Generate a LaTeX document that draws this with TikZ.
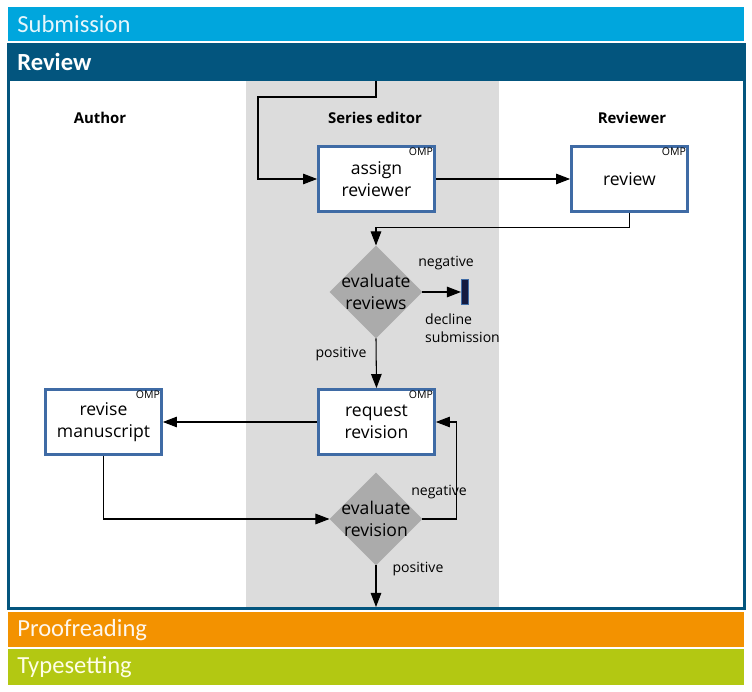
\documentclass[tikz,border=0pt]{standalone}
\usepackage{fontspec}
\setmainfont{Open Sans}
\newfontfamily\bandfont{Carlito}
\usetikzlibrary{shapes.geometric,arrows.meta}
\definecolor{submblue}{HTML}{00A6DD}
\definecolor{revblue}{HTML}{03557E}
\definecolor{taskblue}{HTML}{3F6BA5}
\definecolor{lanegray}{HTML}{DCDCDC}
\definecolor{diagray}{HTML}{ABABAB}
\definecolor{proofor}{HTML}{F39200}
\definecolor{typegreen}{HTML}{B3C812}
\definecolor{endnavy}{HTML}{141A40}

\begin{document}
\begin{tikzpicture}[x=0.02cm,y=-0.02cm,
  task/.style={draw=taskblue,line width=1.6pt,fill=white,minimum width=2.32cm,minimum height=1.3cm,align=center,font=\fontsize{10}{12.5}\selectfont},
  decision/.style={diamond,fill=diagray,minimum width=1.86cm,minimum height=1.86cm,inner sep=-5pt,outer sep=0pt,align=center,font=\fontsize{10}{12.5}\selectfont},
  omp/.style={anchor=north east,inner sep=1.5pt,font=\fontsize{6}{7}\selectfont},
  lane/.style={font=\bfseries\fontsize{8.5}{10}\selectfont},
  lbl/.style={font=\fontsize{8}{10}\selectfont},
  band/.style={anchor=west,inner sep=0pt,font=\bandfont\fontsize{14}{16}\selectfont},
  flow/.style={line width=0.6pt,-{Triangle[length=8pt,width=6pt]}}]
\useasboundingbox (0,0) rectangle (752,692);
% phase bands
\fill[submblue] (8,7) rectangle (744,41);
\node[band,text=white!90!submblue] (subm) at (17,24) {Submission};
\fill[proofor] (8,612) rectangle (744,647);
\node[band,text=white!92!proofor] (proof) at (17,630) {Proofreading};
\fill[typegreen] (8,649) rectangle (744,685);
\node[band,text=white!90!yellow] (types) at (17,667) {Typesetting};
% review phase
\fill[white] (8,44) rectangle (744,608);
\fill[lanegray] (246,81) rectangle (499,607);
\fill[revblue] (7,43) rectangle (746,81);
\draw[revblue,line width=1.7pt] (8.5,44.5) rectangle (744.5,608.5);
\node[band,text=white,font=\bandfont\bfseries\fontsize{14}{16}\selectfont] (rev) at (17,62) {Review};
% lanes
\node[lane] (author) at (100,118) {Author};
\node[lane] (editor) at (375,118) {Series editor};
\node[lane] (reviewer) at (632,118) {Reviewer};
% tasks
\node[task] (assign) at (376.5,179) {assign\\reviewer};
\node[omp] at (assign.north east) {OMP};
\node[task] (review) at (629.5,179) {review};
\node[omp] at (review.north east) {OMP};
\node[task] (request) at (376.5,422) {request\\revision};
\node[omp] at (request.north east) {OMP};
\node[task] (revise) at (103.5,422) {revise\\manuscript};
\node[omp] at (revise.north east) {OMP};
% decisions
\node[decision] (evrev) at (376,292) {evaluate\\reviews};
\node[decision] (evrvn) at (376,519) {evaluate\\revision};
\node[draw=taskblue,fill=endnavy,line width=0.6pt,minimum width=0.14cm,minimum height=0.5cm,inner sep=0pt] (decline) at (465,292) {};
\coordinate (in) at (376,81);
\coordinate (out) at (376,607);
% connectors
\draw[flow] (in) |- (258,97) |- (assign.west);
\draw[flow] (assign.east) -- (review.west);
\draw[flow] (review.south) -- ++(0,15) -| (evrev.north);
\draw[flow] (evrev.east) -- (decline.west);
\draw[flow] (evrev.south) -- (request.north);
\draw[flow] (request.west) -- (revise.east);
\draw[flow] (revise.south) |- (evrvn.west);
\draw[flow] (evrvn.east) -- ++(34,0) |- (request.east);
\draw[flow] (evrvn.south) -- (out);
% labels
\node[lbl] (neg1) at (446,263) {negative};
\node[lbl,anchor=west,align=left] (decl) at (419,328) {decline\\submission};
\node[lbl] (pos1) at (341,354) {positive};
\node[lbl] (neg2) at (439,492) {negative};
\node[lbl] (pos2) at (418,569) {positive};
\end{tikzpicture}
\end{document}
